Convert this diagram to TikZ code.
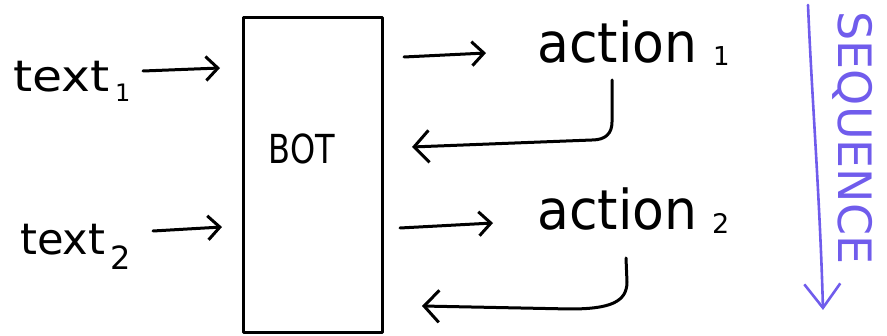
\documentclass[tikz,border=0pt]{standalone}
\usepackage{fontspec}
\setmainfont{DejaVu Sans}
\usetikzlibrary{arrows.meta}
\definecolor{seqpurple}{RGB}{112,92,236}
\tikzset{
  ink/.style={line width=3pt, line cap=round, line join=round},
  tip/.style={-{Straight Barb[length=12pt,width=24pt,line width=3pt]}},
  backtip/.style={-{Straight Barb[length=15pt,width=32pt,line width=3pt]}},
  label/.style={inner sep=0pt, anchor=base west},
  inputtxt/.style={label, yscale=1.08, font=\fontsize{40}{42}\selectfont},
  actiontxt/.style={label, xscale=1.04, yscale=1.1, font=\fontsize{50}{52}\selectfont},
  subtxt/.style={label, font=\fontsize{#1}{30}\selectfont},
}
\begin{document}
\begin{tikzpicture}[x=1pt,y=-1pt]
\useasboundingbox (0,0) rectangle (887,336);
% box
\node[ink, draw, minimum width=139pt, minimum height=315pt, inner sep=0pt] (bot) at (313,175) {};
\node[inner sep=0pt, xscale=0.8, font=\fontsize{40}{42}\selectfont] (bottxt) at (302,149) {BOT};
% inputs
\node[inputtxt, xscale=1.22] (t1) at (13,92) {text};
\node[subtxt=24] (t1s) at (115,102) {1};
\node[inputtxt, xscale=1.08] (t2) at (20,255) {text};
\node[subtxt=32] (t2s) at (110,270) {2};
\coordinate (t1e) at (143,71);
\coordinate (b1in) at (220,68);
\coordinate (t2e) at (153,231);
\coordinate (b2in) at (222,227);
\draw[ink,tip] (t1e) -- (b1in);
\draw[ink,tip] (t2e) -- (b2in);
% actions
\node[actiontxt] (a1) at (537,63) {action};
\node[subtxt=26] (a1s) at (713,66) {1};
\node[actiontxt] (a2) at (537,230) {action};
\node[subtxt=27] (a2s) at (712,234) {2};
\coordinate (b1out) at (404,57);
\coordinate (a1in) at (486,53);
\coordinate (b2out) at (400,228);
\coordinate (a2in) at (493,223);
\draw[ink,tip] (b1out) -- (a1in);
\draw[ink,tip] (b2out) -- (a2in);
% returns
\coordinate (a1out) at (612,80);
\coordinate (r1) at (412,147);
\draw[ink,backtip] (a1out) -- (612,122) .. controls (612,133) and (606,140) .. (592,140) -- (r1);
\coordinate (a2out) at (626,258);
\coordinate (r2) at (422,306);
\draw[ink,backtip] (a2out) -- (627,282) .. controls (627,302) and (610,309) .. (570,309) -- (r2);
% sequence
\coordinate (s0) at (808,5);
\coordinate (s1) at (823,310);
\draw[seqpurple, line width=2.6pt, line cap=round, -{Straight Barb[length=24pt,width=36pt,line width=2.6pt]}] (s0) .. controls (812,100) and (820,200) .. (s1);
\node[inner sep=0pt, rotate=-90, text=seqpurple, font=\fontsize{46}{48}\selectfont] (seq) at (853,138) {SEQUENCE};
\end{tikzpicture}
\end{document}
